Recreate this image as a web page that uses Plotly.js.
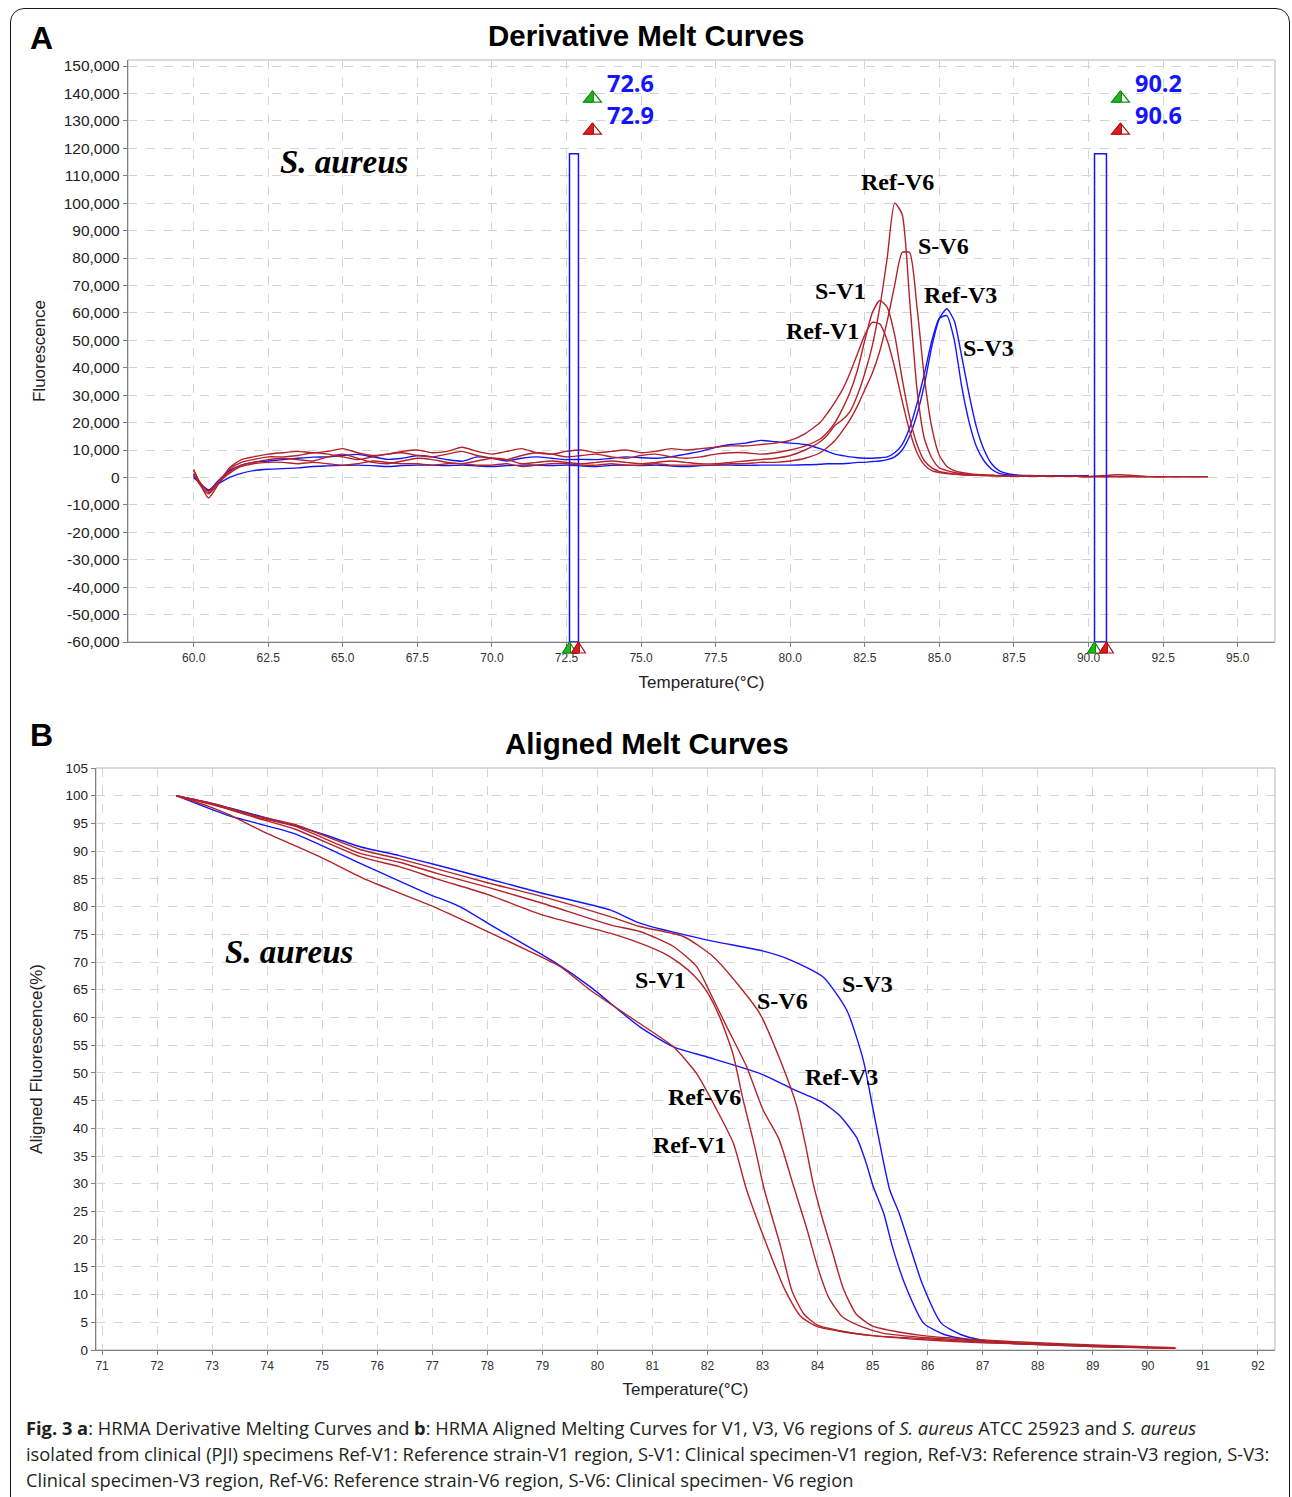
<!DOCTYPE html>
<html><head><meta charset="utf-8">
<script src="https://cdn.plot.ly/plotly-3.0.1.min.js"></script>
<style>
html,body{margin:0;padding:0;background:#fff;width:1292px;height:1497px;overflow:hidden;}
#frame{position:absolute;left:10px;top:8px;width:1280px;height:1530px;border:1.6px solid #1a1a1a;border-radius:14px;box-sizing:border-box;}
#chart{position:absolute;left:0;top:0;width:1292px;height:1400px;}
#caption{position:absolute;left:26px;top:1415px;font-family:'Open Sans',sans-serif;font-size:18.3px;line-height:26px;color:#231f20;white-space:nowrap;}
</style></head><body>
<div id="frame"></div>
<div id="chart"></div>
<div id="caption">
<div><b>Fig. 3 a</b>: HRMA Derivative Melting Curves and <b>b</b>: HRMA Aligned Melting Curves for V1, V3, V6 regions of <i>S. aureus</i> ATCC 25923 and <i>S. aureus</i></div>
<div>isolated from clinical (PJI) specimens Ref-V1: Reference strain-V1 region, S-V1: Clinical specimen-V1 region, Ref-V3: Reference strain-V3 region, S-V3:</div>
<div>Clinical specimen-V3 region, Ref-V6: Reference strain-V6 region, S-V6: Clinical specimen- V6 region</div>
</div>
<script>
// ---------- Panel A: derivative melt curves ----------
const tempA = [60.0,60.2,60.5,60.8,61.2,61.6,
  62.0,62.5,63.0,63.5,64.0,64.5,65.0,65.5,66.0,66.5,67.0,67.5,68.0,68.5,69.0,69.5,70.0,70.5,71.0,71.5,72.0,72.5,73.0,73.5,74.0,74.5,75.0,75.5,76.0,76.5,77.0,77.5,78.0,78.5,79.0,79.5,80.0,80.5,
  81.0,81.25,81.5,81.75,82.0,82.25,82.5,82.75,83.0,83.25,83.5,83.75,84.0,84.25,84.5,84.75,85.0,85.25,85.5,85.75,86.0,86.25,86.5,86.75,87.0,
  87.5,88.0,88.5,89.0,89.6,90.0,91.0,92.0,93.0,94.0];

const dRefV1 = [3000,-2000,-7500,-3000,3500,6500,
  7500,8500,9000,9500,9000,9500,10500,9000,8000,8500,9500,10000,9000,9500,11000,9500,8500,9500,10500,9000,8500,9500,10000,9000,9500,10000,9000,9500,10500,10000,10500,11000,11500,11500,12000,12500,13500,16000,
  20000,23500,27500,32000,38000,45000,52000,56500,56000,50000,40000,28000,17000,9000,4500,2500,1800,1400,1200,1000,900,800,700,700,600,
  500,500,400,400,400,300,1000,300,300,300];

const dSV1 = [2500,-1500,-5500,-2000,3000,5500,
  6500,7500,7500,8000,9000,8500,7500,6500,7500,8500,9000,8000,7500,8500,9500,8000,7000,6500,8000,9000,8500,7500,8000,8500,7500,7000,8000,8500,7500,7000,7500,8500,9000,9000,8500,9000,10000,11500,
  14000,16500,20000,25000,31000,39000,50000,60000,64500,62000,52000,36000,22000,12000,6000,3500,2200,1600,1200,1000,900,800,700,600,600,
  500,500,400,400,400,300,300,300,300,300];

const dRefV6 = [1500,-2500,-6000,-2500,2000,4500,
  5500,6500,7000,6500,6000,7500,8500,7000,5500,5000,6000,7000,6500,5500,5000,6000,7000,6500,5000,5500,6000,5500,5000,5500,6000,5500,5000,5500,6000,5500,5000,5000,5500,6000,6500,7000,8000,10000,
  13000,15500,19000,21000,24000,30000,38000,48000,62000,80000,100000,96000,65000,32000,14000,7000,3500,2500,1800,1400,1100,900,800,700,600,
  500,500,400,400,400,300,300,300,300,300];

const dSV6 = [1000,-2000,-5000,-2000,1500,4000,
  5000,5500,5500,5000,5500,5000,4500,5000,6000,5500,5000,5000,4500,5000,5000,4500,4500,5000,4000,4500,5000,5000,4500,4500,5000,4500,4500,5000,4500,4500,4500,4500,5000,5000,5500,5500,6000,7000,
  9000,11000,13500,17000,21000,26000,32000,38000,46000,57000,70000,82000,82000,62000,36000,18000,8000,4000,2500,1800,1400,1100,900,800,700,
  600,500,500,400,400,300,300,300,300,300];

const dRefV3 = [500,-2000,-4800,-1500,2500,4500,
  5500,6000,6500,7000,7400,7500,8000,8400,7500,6600,7000,8000,7500,6500,5900,7500,7000,6000,7000,7500,7000,6500,6600,6500,7000,7500,7200,7000,7500,8500,9500,11000,12000,12500,13500,13000,12500,12000,
  10500,9500,8500,8000,7500,7200,7000,7000,7200,7500,9000,12000,18000,27000,38000,50000,58000,59000,50000,33000,20000,11000,6000,3000,1500,
  800,600,500,500,500,500,null,null,null,null];

const dSV3 = [0,-2000,-4500,-2500,0,1500,
  2500,3000,3200,3500,4000,4200,4400,4500,4300,4000,4300,4500,4500,4300,4500,4200,4000,4300,4500,4500,4300,4500,4200,4000,4400,4500,4300,4500,4200,4000,4300,4500,4500,4400,4500,4500,4500,4600,
  4800,5000,5000,5000,5200,5500,5500,5800,6000,6500,7500,10000,15000,23000,34000,48000,58000,61500,57000,44000,30000,18000,10000,5000,2500,
  1000,700,600,600,600,600,null,null,null,null];

const cursorsLow = [72.6, 72.9];
const cursorsHigh = [90.2, 90.6];
const cursorTop = 118000;

const tickValsAx = [60.0,62.5,65.0,67.5,70.0,72.5,75.0,77.5,80.0,82.5,85.0,87.5,90.0,92.5,95.0];
const tickTextAx = ['60.0','62.5','65.0','67.5','70.0','72.5','75.0','77.5','80.0','82.5','85.0','87.5','90.0','92.5','95.0'];
const tickValsAy = [-60000,-50000,-40000,-30000,-20000,-10000,0,10000,20000,30000,40000,50000,60000,70000,80000,90000,100000,110000,120000,130000,140000,150000];
const tickTextAy = ['-60,000','-50,000','-40,000','-30,000','-20,000','-10,000','0','10,000','20,000','30,000','40,000','50,000','60,000','70,000','80,000','90,000','100,000','110,000','120,000','130,000','140,000','150,000'];

// ---------- Panel B: aligned melt curves ----------
const tSV3 = [72.35,73.0,73.87,74.5,75.0,75.69,76.4,77.08,78.1,79.0,80.23,80.77,81.98,83.0,83.5,84.1,84.53,84.83,85.01,85.19,85.31,85.48,85.68,85.9,86.25,86.6,86.98,87.5,88.5,89.6];
const aSV3 = [100,98.6,96.3,94.6,93.1,90.8,89.2,87.5,84.8,82.4,79.4,77.0,74.0,72.0,70.4,67.3,61.3,52.3,43.3,34.3,28.9,24.7,18.6,12.0,4.8,2.8,1.8,1.3,0.9,0.5];

const tRefV3 = [72.35,73.27,74.48,75.69,76.9,77.5,78.11,79.2,79.86,80.77,81.38,81.98,82.95,83.5,83.8,84.1,84.4,84.71,84.88,85.01,85.2,85.36,85.6,85.93,86.3,86.8,87.5,88.5,89.6];
const aRefV3 = [100,96.5,93.2,87.8,82.4,80.0,76.4,70.1,65.6,58.3,54.7,52.9,49.9,47.3,46.0,44.6,42.3,38.3,33.8,29.5,24.7,18.6,11.5,4.8,2.8,1.8,1.2,0.9,0.6];

const tRefV1 = [72.35,72.96,73.33,73.87,74.48,75.08,75.81,77.02,77.81,78.71,79.32,79.86,80.77,81.38,81.8,82.17,82.47,82.71,83.09,83.41,83.7,84.0,84.5,85.0,86.0,87.0,88.0,89.0,90.5];
const aRefV1 = [100,98.0,96.5,93.8,91.1,88.4,84.8,80.0,76.4,72.2,69.2,65.0,58.9,54.7,49.9,43.3,37.3,28.9,18.6,10.8,6.0,4.2,3.2,2.6,1.8,1.3,1.0,0.6,0.3];

const tSV1 = [72.35,73.0,73.87,74.5,75.69,76.4,77.08,78.0,79.0,80.23,80.77,81.2,81.49,81.75,81.98,82.22,82.46,82.65,82.85,83.03,83.33,83.53,83.75,84.0,84.5,85.0,86.0,87.0,88.0,89.0,90.5];
const aSV1 = [100,98.4,95.8,94.0,89.0,87.2,85.0,82.2,78.5,75.2,73.4,71.6,69.8,67.6,64.8,60.1,53.5,45.0,37.0,29.0,18.6,10.8,6.5,4.5,3.3,2.6,2.0,1.4,1.0,0.6,0.3];

const tRefV6 = [72.35,73.0,73.87,74.5,75.69,76.4,77.08,78.0,79.0,80.23,80.77,81.38,81.8,82.05,82.35,82.71,83.01,83.3,83.55,83.8,84.0,84.2,84.45,84.8,85.2,86.0,87.0,88.0,89.0,90.5];
const aRefV6 = [100,98.5,96.0,94.5,89.6,88.0,86.0,83.5,80.6,76.7,75.5,72.8,69.2,64.4,58.3,51.1,43.3,38.0,30.0,22.0,15.0,9.5,6.0,4.2,3.0,2.2,1.6,1.1,0.7,0.3];

const tSV6 = [72.35,73.0,73.87,74.5,75.69,76.4,77.08,78.0,79.0,80.23,80.77,81.56,82.1,82.59,82.95,83.32,83.62,83.78,83.92,84.08,84.26,84.47,84.7,85.0,85.5,86.0,87.0,88.0,89.0,90.5];
const aSV6 = [100,98.6,96.2,94.8,90.3,88.6,86.8,84.3,81.8,78.2,76.4,74.6,71.0,65.5,60.7,52.3,44.0,37.0,30.0,24.0,18.0,11.0,6.5,4.3,3.2,2.5,1.8,1.3,0.9,0.4];

const tickValsBx = [71,72,73,74,75,76,77,78,79,80,81,82,83,84,85,86,87,88,89,90,91,92];
const tickTextBx = ['71','72','73','74','75','76','77','78','79','80','81','82','83','84','85','86','87','88','89','90','91','92'];
const tickValsBy = [0,5,10,15,20,25,30,35,40,45,50,55,60,65,70,75,80,85,90,95,100,105];
const tickTextBy = ['0','5','10','15','20','25','30','35','40','45','50','55','60','65','70','75','80','85','90','95','100','105'];

// curve labels
const labelsA = [
  {t:'Ref-V6', x:83.59, y:107800},{t:'S-V6', x:85.13, y:84500},{t:'S-V1', x:81.68, y:68100},
  {t:'Ref-V3', x:85.7, y:66600},{t:'Ref-V1', x:81.07, y:53500},{t:'S-V3', x:86.64, y:47300}];
const labelsB = [
  {t:'S-V1', x:81.14, y:66.75},{t:'S-V6', x:83.37, y:63.0},{t:'S-V3', x:84.9, y:66.0},
  {t:'Ref-V3', x:84.44, y:49.25},{t:'Ref-V6', x:81.95, y:45.6},{t:'Ref-V1', x:81.68, y:37.0}];

const RED = '#b3232a', BLUE = '#1414ff';
const lw = 1.4;

function tr(x, y, color, name, xa, ya){
  return {x:x, y:y, type:'scatter', mode:'lines', name:name, xaxis:xa, yaxis:ya,
    line:{color:color, width:lw, shape:'spline', smoothing:0.6}, connectgaps:false, hoverinfo:'skip'};
}

const data = [
  tr(tempA, dSV3, BLUE, 'S-V3', 'x', 'y'),
  tr(tempA, dRefV3, BLUE, 'Ref-V3', 'x', 'y'),
  tr(tempA, dRefV1, RED, 'Ref-V1', 'x', 'y'),
  tr(tempA, dSV1, RED, 'S-V1', 'x', 'y'),
  tr(tempA, dRefV6, RED, 'Ref-V6', 'x', 'y'),
  tr(tempA, dSV6, RED, 'S-V6', 'x', 'y'),
  tr(tSV3, aSV3, BLUE, 'S-V3', 'x2', 'y2'),
  tr(tRefV3, aRefV3, BLUE, 'Ref-V3', 'x2', 'y2'),
  tr(tRefV1, aRefV1, RED, 'Ref-V1', 'x2', 'y2'),
  tr(tSV1, aSV1, RED, 'S-V1', 'x2', 'y2'),
  tr(tRefV6, aRefV6, RED, 'Ref-V6', 'x2', 'y2'),
  tr(tSV6, aSV6, RED, 'S-V6', 'x2', 'y2')
];

const tickFontX = {family:'Liberation Sans Narrow, Liberation Sans, Arial', size:12, color:'#333'};
const tickFontYA = {family:'Liberation Sans, Arial', size:15.5, color:'#222'};
const tickFontYB = {family:'Liberation Sans, Arial', size:13.5, color:'#222'};
const axTitleFont = {family:'Liberation Sans, Arial', size:17, color:'#222'};

function xAxis(dom, rng, tv, tt, anchor, standoff){
  return {domain:dom, range:rng, tickvals:tv, ticktext:tt, anchor:anchor, showgrid:true,
    gridcolor:'#d4d4d4', griddash:'dash', gridwidth:1, zeroline:false, showline:true, linecolor:'#7f7f7f',
    linewidth:1.2, ticks:'outside', ticklen:4, tickcolor:'#7f7f7f', tickfont:tickFontX,
    title:{text:'Temperature(°C)', font:axTitleFont, standoff:standoff}, fixedrange:true};
}
function yAxis(dom, rng, tv, tt, anchor, title, standoff, tf){
  return {domain:dom, range:rng, tickvals:tv, ticktext:tt, anchor:anchor, showgrid:true,
    gridcolor:'#d4d4d4', griddash:'dash', gridwidth:1, zeroline:false, showline:true, linecolor:'#7f7f7f',
    linewidth:1.2, ticks:'outside', ticklen:4, tickcolor:'#7f7f7f', tickfont:tf,
    title:{text:title, font:axTitleFont, standoff:standoff}, fixedrange:true};
}

const H = 1400, W = 1292;
const annotations = [];
function paperAnno(text, px, py, size){
  annotations.push({xref:'paper', yref:'paper', x:px/W, y:1-py/H, text:text, showarrow:false,
    xanchor:'center', yanchor:'middle', font:{family:'Liberation Sans, Arial', size:size, color:'#000'}});
}
paperAnno('<b>A</b>', 41, 38, 32);
paperAnno('<b>B</b>', 41, 735, 32);
paperAnno('<b>Derivative Melt Curves</b>', 646, 35, 29.5);
paperAnno('<b>Aligned Melt Curves</b>', 647, 743, 29.5);

// S. aureus labels
annotations.push({xref:'x', yref:'y', x:65.03, y:115000, text:'<b><i>S. aureus</i></b>', showarrow:false,
  font:{family:'Liberation Serif, Times New Roman', size:33, color:'#000'}});
annotations.push({xref:'x2', yref:'y2', x:74.40, y:71.8, text:'<b><i>S. aureus</i></b>', showarrow:false,
  font:{family:'Liberation Serif, Times New Roman', size:33, color:'#000'}});

labelsA.forEach(l => annotations.push({xref:'x', yref:'y', x:l.x, y:l.y, text:'<b>'+l.t+'</b>', showarrow:false,
  font:{family:'Liberation Serif, Times New Roman', size:24, color:'#000'}}));
labelsB.forEach(l => annotations.push({xref:'x2', yref:'y2', x:l.x, y:l.y, text:'<b>'+l.t+'</b>', showarrow:false,
  font:{family:'Liberation Serif, Times New Roman', size:24, color:'#000'}}));

const shapes = [
  {type:'rect', xref:'x domain', yref:'y domain', x0:0, x1:1, y0:0, y1:1, line:{color:'#b5b5b5', width:1}, layer:'below'},
  {type:'rect', xref:'x2 domain', yref:'y2 domain', x0:0, x1:1, y0:0, y1:1, line:{color:'#b5b5b5', width:1}, layer:'below'},
  {type:'rect', xref:'x', yref:'y', x0:cursorsLow[0], x1:cursorsLow[1], y0:-60000, y1:cursorTop, line:{color:'#1414ff', width:1.5}, fillcolor:'rgba(0,0,0,0)'},
  {type:'rect', xref:'x', yref:'y', x0:cursorsHigh[0], x1:cursorsHigh[1], y0:-60000, y1:cursorTop, line:{color:'#1414ff', width:1.5}, fillcolor:'rgba(0,0,0,0)'}
];

// half-filled triangle cursor markers (pixel-sized shapes)
const triColors = ['#1fb51f', '#e01b1b'];
const triLines = ['#128a12', '#b01010'];
function halfTriangle(xval, yref, yval, dx, dy, w, h, i){
  const l = dx - w/2, r = dx + w/2, b = dy, t = dy + h;
  shapes.push({type:'path', xref:'x', yref:yref, xsizemode:'pixel', ysizemode:'pixel', xanchor:xval, yanchor:yval,
    path:`M ${l},${b} L ${r},${b} L ${dx},${t} Z`, fillcolor:'#ffffff', line:{color:triLines[i], width:1.2}});
  shapes.push({type:'path', xref:'x', yref:yref, xsizemode:'pixel', ysizemode:'pixel', xanchor:xval, yanchor:yval,
    path:`M ${l},${b} L ${dx+1},${b} L ${dx+1},${t-1} L ${dx},${t} Z`, fillcolor:triColors[i], line:{color:triLines[i], width:1}});
}
const cursorLabelY = [143800, 132100];
const triY = [138700, 127000];
const axisBottomPaper = 1 - 642/H;
[cursorsLow, cursorsHigh].forEach(c => {
  for (let i = 0; i < 2; i++) {
    annotations.push({xref:'x', yref:'y', x:c[1], y:cursorLabelY[i], xshift:27, xanchor:'left', yanchor:'middle',
      text:'<b>'+c[i].toFixed(1)+'</b>', showarrow:false,
      font:{family:'Open Sans, Liberation Sans', size:23.5, color:'#1414ff'}});
    halfTriangle(c[1], 'y', triY[i], 14, -5, 18, 11, i);
  }
  for (let i = 0; i < 2; i++) {
    halfTriangle(c[i], 'paper', axisBottomPaper, 0, -11, 14, 11, i);
  }
});

const layout = {
  width:W, height:H, margin:{l:0, r:0, t:0, b:0}, paper_bgcolor:'rgba(0,0,0,0)', plot_bgcolor:'#fff',
  showlegend:false,
  xaxis: xAxis([128/W, 1275/W], [57.8, 96.25], tickValsAx, tickTextAx, 'y', 12),
  yaxis: yAxis([1-642/H, 1-60/H], [-60000, 152200], tickValsAy, tickTextAy, 'x', 'Fluorescence', 13, tickFontYA),
  xaxis2: xAxis([96/W, 1275/W], [70.89, 92.31], tickValsBx, tickTextBx, 'y2', 11),
  yaxis2: yAxis([1-1350/H, 1-768/H], [0, 105], tickValsBy, tickTextBy, 'x2', 'Aligned Fluorescence(%)', 18, tickFontYB),
  annotations:annotations, shapes:shapes
};

Plotly.newPlot('chart', data, layout, {staticPlot:true, displayModeBar:false});
</script>
</body></html>
